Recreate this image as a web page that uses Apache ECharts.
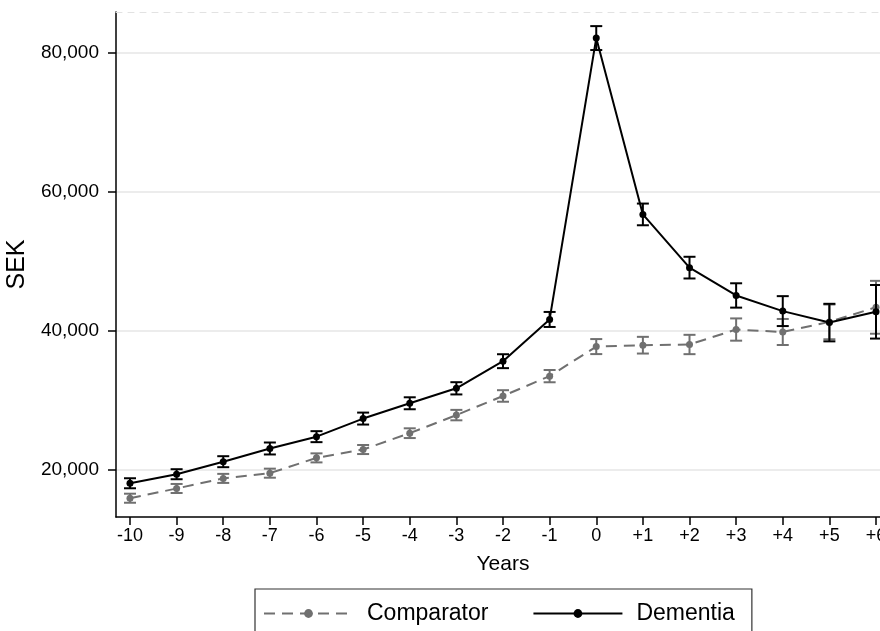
<!DOCTYPE html>
<html>
<head>
<meta charset="utf-8">
<script src="https://cdn.jsdelivr.net/npm/echarts@6/dist/echarts.min.js"></script>
<style>html,body{margin:0;padding:0;background:#fff}#c{width:880px;height:631px}</style>
</head>
<body>
<div id="c"></div>
<script>
const years = [-10,-9,-8,-7,-6,-5,-4,-3,-2,-1,0,1,2,3,4,5,6];
const yTicks = [20000, 40000, 60000, 80000];

const comparator = [15950,17350,18800,19550,21750,22950,25300,27900,30650,33500,37750,37950,38050,40200,39850,41300,43400];
const comparatorLow = [15300,16700,18150,18900,21100,22300,24600,27150,29820,32620,36670,36750,36660,38600,37980,38800,39600];
const comparatorHigh = [16600,18000,19450,20200,22400,23600,26000,28650,31480,34380,38830,39150,39440,41800,41720,43800,47200];

const dementia = [18100,19400,21200,23100,24800,27400,29600,31750,35650,41650,82100,56750,49100,45100,42850,41200,42750];
const dementiaLow = [17380,18680,20410,22240,24010,26540,28740,30870,34650,40570,80380,55190,47540,43350,40700,38500,38900];
const dementiaHigh = [18820,20120,21990,23960,25590,28260,30460,32630,36650,42730,83820,58310,50660,46850,45000,43900,46600];

const GREY = '#707070';
const BLACK = '#000000';
const FONT = 'Liberation Sans, Arial, Helvetica, sans-serif';

function pairs(vals){ return years.map((y,i)=>[y, vals[i]]); }
function bars(lo, hi){ return years.map((y,i)=>[y, lo[i], hi[i]]); }

function errRender(color){
  return function(params, api){
    const x = api.value(0);
    const a = api.coord([x, api.value(1)]);
    const b = api.coord([x, api.value(2)]);
    const w = 6;
    const st = {stroke: color, lineWidth: 2};
    return {type:'group', children:[
      {type:'line', shape:{x1:a[0], y1:a[1], x2:b[0], y2:b[1]}, style:st},
      {type:'line', shape:{x1:a[0]-w, y1:a[1], x2:a[0]+w, y2:a[1]}, style:st},
      {type:'line', shape:{x1:b[0]-w, y1:b[1], x2:b[0]+w, y2:b[1]}, style:st}
    ]};
  };
}

const chart = echarts.init(document.getElementById('c'), null, {renderer:'canvas'});
chart.setOption({
  animation: false,
  backgroundColor: '#fff',
  textStyle: {fontFamily: FONT},
  grid: {left: 116, top: 12, width: 774, bottom: 114, containLabel: false, outerBoundsMode: 'none'},
  xAxis: [{
    type: 'value', min: -10.3, max: 6.3,
    name: 'Years', nameLocation: 'middle', nameGap: 37,
    nameTextStyle: {fontSize: 21, color: '#000', fontFamily: FONT},
    axisLine: {show: true, onZero: false, lineStyle: {color: '#000', width: 1.5}},
    axisTick: {show: true, length: 8, lineStyle: {color: '#000', width: 1.5}, customValues: years},
    axisLabel: {fontSize: 18, color: '#000', margin: 10, fontFamily: FONT, customValues: years,
      formatter: v => v > 0 ? '+' + v : String(v)},
    splitLine: {show: false}
  },{
    type: 'value', min: -10.3, max: 6.3, position: 'top',
    axisLine: {show: true, onZero: false, lineStyle: {color: '#e2e2e2', width: 1, type: [6,6]}},
    axisTick: {show: false}, axisLabel: {show: false}, splitLine: {show: false}
  }],
  yAxis: {
    type: 'value', min: 13250, max: 85850,
    name: 'SEK', nameLocation: 'middle', nameGap: 86,
    nameTextStyle: {fontSize: 25, color: '#000', fontFamily: FONT},
    axisLine: {show: true, onZero: false, lineStyle: {color: '#000', width: 1.5}},
    axisTick: {show: true, length: 8, lineStyle: {color: '#000', width: 1.5}, customValues: yTicks},
    axisLabel: {fontSize: 19, color: '#000', margin: 17, fontFamily: FONT, customValues: yTicks,
      formatter: v => v.toLocaleString('en-US')},
    splitLine: {show: true, lineStyle: {color: '#e6e6e6', width: 1.5}}
  },
  legend: {
    left: 255, top: 589,
    padding: [13, 17, 20, 8],
    borderColor: '#333', borderWidth: 1.2,
    itemWidth: 89, itemHeight: 11, itemGap: 44,
    textStyle: {fontSize: 23, color: '#000', fontFamily: FONT, padding: [0,0,0,9]},
    data: [
      {name: 'Comparator'},
      {name: 'Dementia'}
    ]
  },
  series: [
    {
      name: 'Comparator', type: 'line', data: pairs(comparator),
      symbol: 'circle', symbolSize: 7,
      itemStyle: {color: GREY},
      lineStyle: {color: GREY, width: 2, type: [11, 7]},
      z: 3
    },
    {
      name: 'ComparatorCI', type: 'custom', data: bars(comparatorLow, comparatorHigh),
      renderItem: errRender(GREY), z: 3, silent: true
    },
    {
      name: 'Dementia', type: 'line', data: pairs(dementia),
      symbol: 'circle', symbolSize: 7,
      itemStyle: {color: BLACK},
      lineStyle: {color: BLACK, width: 2},
      z: 4
    },
    {
      name: 'DementiaCI', type: 'custom', data: bars(dementiaLow, dementiaHigh),
      renderItem: errRender(BLACK), z: 4, silent: true
    }
  ]
});
</script>
</body>
</html>
